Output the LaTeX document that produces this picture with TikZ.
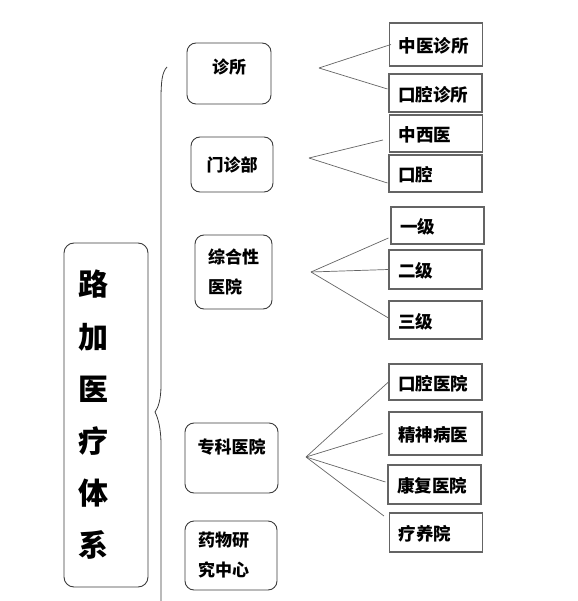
\documentclass[tikz,border=0pt]{standalone}
\usepackage{fontspec}
\setmainfont{Noto Sans CJK SC}
\usepackage{tikz}
\usetikzlibrary{positioning}
\definecolor{boxgray}{RGB}{60,60,60}
\definecolor{linegray}{RGB}{100,100,100}
\tikzstyle{titlebox} = [rectangle, draw=boxgray, rounded corners=10pt, line width=0.9pt,
    text width=56pt, align=left, inner sep=0pt, minimum width=84pt, minimum height=344pt,
    font=\fontsize{30}{52.2}\selectfont\bfseries]
\tikzstyle{catbox} = [rectangle, draw=boxgray, rounded corners=9pt, line width=0.9pt,
    align=left, inner sep=0pt, font=\fontsize{17}{30}\selectfont\bfseries]
\tikzstyle{leafbox} = [rectangle, draw=linegray, line width=1.1pt, text width=75pt,
    align=left, inner xsep=9pt, inner ysep=0pt, minimum width=93pt, minimum height=38pt,
    text height=18pt, font=\fontsize{17.5}{20}\selectfont\bfseries]
\tikzstyle{fanline} = [draw=linegray, line width=0.7pt]

\begin{document}
\begin{tikzpicture}[x=1pt,y=-1pt]
    \useasboundingbox (0,0) rectangle (577,601);
    % Place nodes
    \node [titlebox] (lujia) at (106,415) {路\\加\\医\\疗\\体\\系};
    \node [catbox, minimum width=84pt, minimum height=61pt, text depth=15pt] (zhensuo) at (229,73.5) {诊所};
    \node [catbox, minimum width=82pt, minimum height=55pt] (menzhen) at (232,164.5) {门诊部};
    \node [catbox, minimum width=77pt, minimum height=74pt] (zonghe) at (233.5,272) {综合性\\医院};
    \node [catbox, minimum width=93pt, minimum height=70pt, text depth=24pt] (zhuanke) at (231.5,458) {专科医院};
    \node [catbox, minimum width=92pt, minimum height=69pt, text width=66pt] (yaowu) at (231,555.5) {药物研\\究中心};
    % leaves
    \node [leafbox, minimum height=43pt] (zyzs) at (436,44.5) {中医诊所};
    \node [leafbox] (kqzs) at (435.5,93) {口腔诊所};
    \node [leafbox, minimum height=37pt] (zxy) at (436,133.5) {中西医};
    \node [leafbox, minimum height=37pt] (kq) at (435.5,173.5) {口腔};
    \node [leafbox, minimum height=37pt] (yiji) at (437.5,225.5) {一级};
    \node [leafbox, minimum height=39pt] (erji) at (435.5,269.5) {二级};
    \node [leafbox] (sanji) at (435.5,320) {三级};
    \node [leafbox, minimum height=36pt] (kqyy) at (435.5,382) {口腔医院};
    \node [leafbox, minimum height=43pt] (jsby) at (435.5,433.5) {精神病医};
    \node [leafbox, minimum height=39pt] (kfyy) at (434.5,484.5) {康复医院};
    \node [leafbox, minimum height=39pt] (lyy) at (436,532.5) {疗养院};
    % fan points
    \coordinate (f1) at (319,68);
    \coordinate (f2) at (309,158);
    \coordinate (f3) at (311,272);
    \coordinate (f4) at (306,457);
    % Draw edges
    \draw [draw=boxgray, line width=0.8pt] (167,67) .. controls (162,72) and (161,82) .. (161,100)
        -- (161,385) .. controls (161,400) and (158,408) .. (155,412)
        .. controls (158,418) and (161,428) .. (161,445) -- (161,601);
    \path [fanline] (f1) -- ([xshift=2pt]zyzs.west);
    \path [fanline] (f1) -- ([xshift=-1pt,yshift=4pt]kqzs.west);
    \path [fanline] (f2) -- ([xshift=-6pt,yshift=-6.5pt]zxy.west);
    \path [fanline] (f2) -- ([xshift=-1pt,yshift=-9.5pt]kq.west);
    \path [fanline] (f3) -- ([xshift=-2pt,yshift=-12.5pt]yiji.west);
    \path [fanline] (f3) -- (erji.west);
    \path [fanline] (f3) -- ([yshift=2pt]sanji.west);
    \path [fanline] (f4) -- (kqyy.west);
    \path [fanline] (f4) -- ([xshift=-6pt]jsby.west);
    \path [fanline] (f4) -- ([xshift=-2pt,yshift=2.5pt]kfyy.west);
    \path [fanline] (f4) -- ([xshift=-5pt,yshift=16.5pt]lyy.west);
\end{tikzpicture}
\end{document}
